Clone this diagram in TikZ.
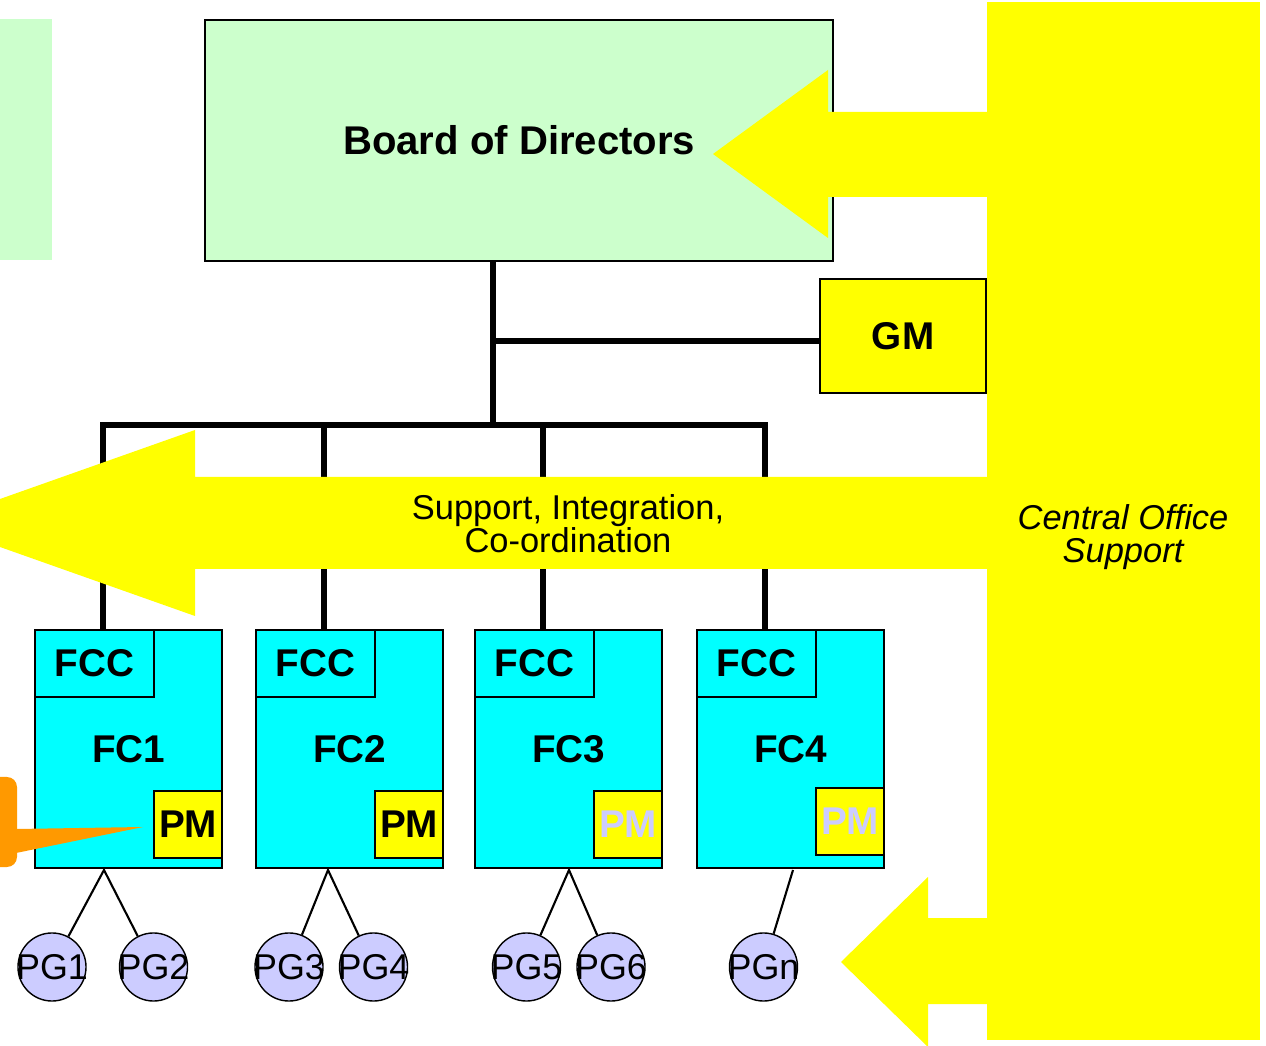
\documentclass[tikz,border=0pt]{standalone}
\usepackage{fontspec}
\setmainfont{Liberation Sans}
\definecolor{boardgreen}{HTML}{CCFFCC}
\definecolor{fccyan}{HTML}{00FFFF}
\definecolor{pglav}{HTML}{CCCCFF}
\definecolor{cosyellow}{HTML}{FFFF00}
\definecolor{calloutorange}{HTML}{FF9900}
\begin{document}
\begin{tikzpicture}[x=0.01cm, y=-0.01cm,
    box/.style={draw, semithick, anchor=north west, inner sep=0pt, font=\fontsize{11}{13}\selectfont\bfseries},
    trunk/.style={line width=1.6pt},
    pg/.style={circle, draw, fill=pglav, minimum size=6.8mm, inner sep=0pt, font=\fontsize{10.2}{12}\selectfont}]
    \useasboundingbox (0, 0) rectangle (1266, 1046);
        \fill[boardgreen] (0, 19) rectangle (52, 260);
        \node[box, fill=boardgreen, minimum width=62.8mm, minimum height=24.1mm, font=\fontsize{11.4}{13}\selectfont\bfseries] (board) at (204, 19) {Board of Directors};
        \fill[cosyellow] (713, 154) -- (828, 70) -- (828, 112) -- (990, 112) -- (990, 197) -- (828, 197) -- (828, 238) -- cycle;
        \fill[cosyellow] (987, 2) rectangle (1260, 1040);
        \node[box, fill=cosyellow, minimum width=16.6mm, minimum height=11.4mm] (gm) at (819, 278) {GM};
        \coordinate (hub) at (493, 425);
        \coordinate (gmjoin) at (493, 341);
        \draw[trunk] (board.south -| hub) -- (hub);
        \draw[trunk] (gmjoin) -- (gmjoin -| gm.west);
        \foreach \i/\x/\pmy/\pmc in {1/34/790/black, 2/255/790/black, 3/474/790/pglav, 4/696/787/pglav} {
            \node[box, fill=fccyan, minimum width=18.7mm, minimum height=23.8mm] (fc\i) at (\x, 629) {FC\i};
            \node[box, fill=fccyan, minimum width=11.9mm, minimum height=6.7mm] (fcc\i) at (\x, 629) {FCC};
            \node[box, fill=cosyellow, text=\pmc, minimum width=6.8mm, minimum height=6.7mm] (pm\i) at (\x+119, \pmy) {PM};
            \coordinate (bus\i) at (\x+69, 425);
            \draw[trunk] (bus\i) -- (bus\i |- fc\i.north);
        }
        \draw[trunk, line cap=rect] (bus1) -- (bus4);
        % support arrow
        \fill[cosyellow] (0, 499) -- (195, 430) -- (195, 477) -- (990, 477) -- (990, 569) -- (195, 569) -- (195, 616) -- (0, 547) -- cycle;
        \node[align=center, font=\fontsize{9.8}{9.4}\selectfont] (sic) at (568, 524) {Support, Integration,\\Co-ordination};
        \node[align=center, font=\fontsize{9.8}{9.4}\selectfont\itshape] (cos) at (1123, 537) {Central Office\\Support};
        \fill[cosyellow] (841, 962) -- (928, 877) -- (928, 918) -- (990, 918) -- (990, 1004) -- (928, 1004) -- (928, 1047) -- cycle;
        \foreach \n/\x in {1/52, 2/153.5, 3/289, 4/373.5, 5/526.5, 6/611, n/763.5}
            \node[pg] (pg\n) at (\x, 967) {\makebox[0pt]{PG\n}};
        \coordinate (fork1) at (104, 870);
        \coordinate (fork2) at (328, 870);
        \coordinate (fork3) at (569, 870);
        \coordinate (fork4) at (793, 870);
        \draw[semithick] (pg1) -- (fork1) -- (pg2);
        \draw[semithick] (pg3) -- (fork2) -- (pg4);
        \draw[semithick] (pg5) -- (fork3) -- (pg6);
        \draw[semithick] (fork4) -- (pgn);
        % callout
        \fill[calloutorange, rounded corners=1mm] (-30, 777) rectangle (17, 867);
        \fill[calloutorange] (16, 829) -- (143, 827) -- (16, 853) -- cycle;
    \end{tikzpicture}
\end{document}
